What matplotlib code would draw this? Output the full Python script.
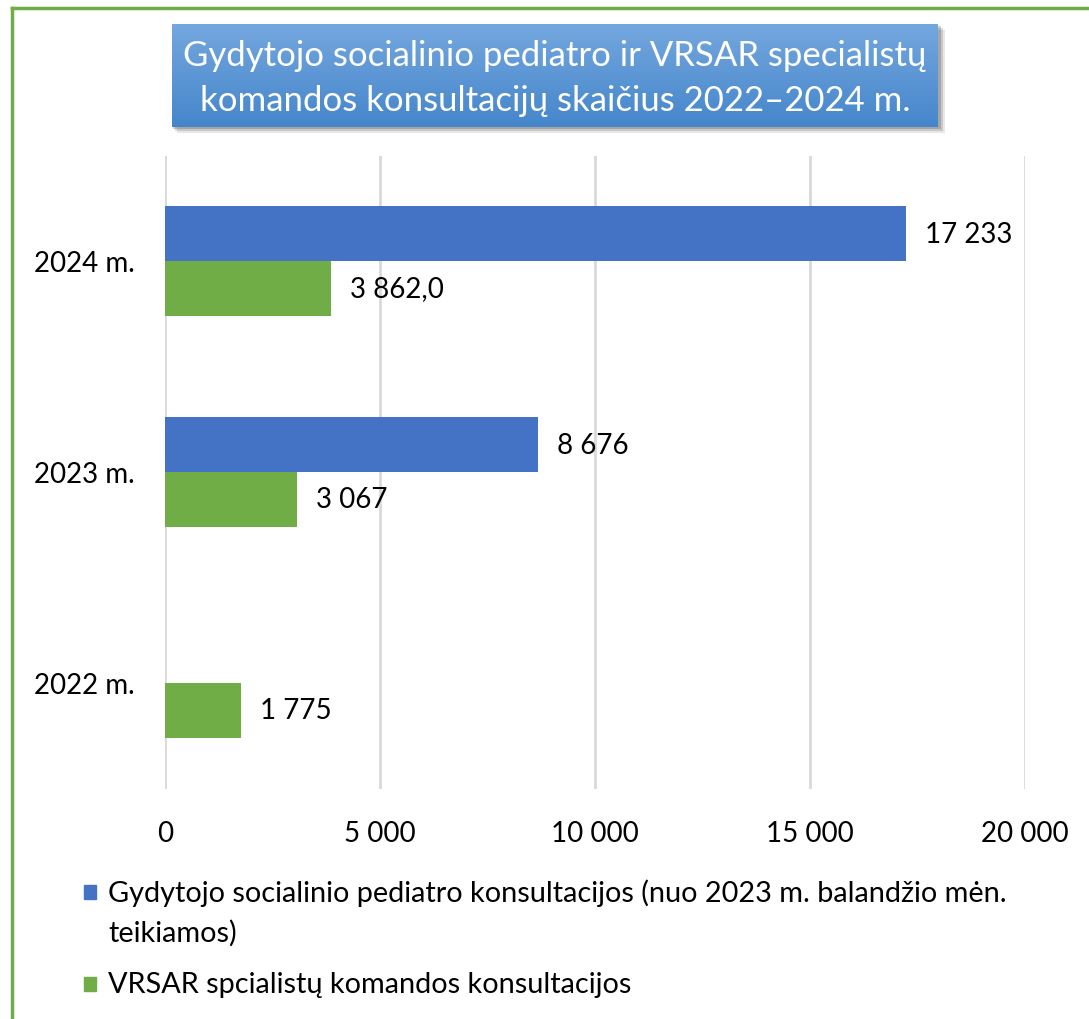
import matplotlib
matplotlib.use("Agg")
import matplotlib.pyplot as plt
import numpy as np
from matplotlib.patches import Rectangle
from matplotlib.lines import Line2D
from matplotlib.ticker import FuncFormatter

plt.rcParams['font.family'] = ['Lato', 'DejaVu Sans']

categories = ["2022 m.", "2023 m.", "2024 m."]
pediatro = [None, 8676, 17233]
vrsar = [1775, 3067, 3862]
vrsar_decimals = [0, 0, 1]
xticks = [0, 5000, 10000, 15000, 20000]
title = "Gydytojo socialinio pediatro ir VRSAR specialistų\nkomandos konsultacijų skaičius 2022–2024 m."
legend_labels = ["Gydytojo socialinio pediatro konsultacijos (nuo 2023 m. balandžio mėn.\nteikiamos)",
                 "VRSAR spcialistų komandos konsultacijos"]

BLUE = "#4472c4"
GREEN = "#70ad47"
W, H = 1089, 1020
FS = 20

def fmt(v, dec=0):
    s = f"{v:,.{dec}f}"
    s = s.replace(",", " ").replace(".", ",")
    return s

fig = plt.figure(figsize=(W/100, H/100), dpi=100)

# green frame (top and left visible)
fig.add_artist(Line2D([12/W, 1.0], [1-9/H, 1-9/H], color=GREEN, lw=2.5, transform=fig.transFigure))
fig.add_artist(Line2D([12/W, 12/W], [0, 1-9/H], color=GREEN, lw=2.5, transform=fig.transFigure))

ax = fig.add_axes([165/W, 1-789.5/H, (1025-165)/W, (789.5-156.5)/H])
y = np.arange(len(categories))
h = 0.26
off = 0.13
for i in range(len(categories)):
    if pediatro[i] is not None:
        ax.barh(y[i]+off, pediatro[i], height=h, color=BLUE, zorder=3)
        ax.text(pediatro[i]+440, y[i]+off, fmt(pediatro[i]), va='center', ha='left', fontsize=FS, color='black')
    ax.barh(y[i]-off, vrsar[i], height=h, color=GREEN, zorder=3)
    ax.text(vrsar[i]+440, y[i]-off, fmt(vrsar[i], vrsar_decimals[i]), va='center', ha='left', fontsize=FS, color='black')

ax.set_xlim(0, 20000)
ax.set_ylim(-0.5, 2.5)
ax.set_xticks(xticks)
ax.xaxis.set_major_formatter(FuncFormatter(lambda v, p: fmt(v)))
ax.set_yticks(y)
ax.set_yticklabels(categories)
ax.tick_params(axis='both', length=0, labelsize=FS)
ax.tick_params(axis='x', pad=23)
ax.tick_params(axis='y', pad=22)
for s in ax.spines.values():
    s.set_visible(False)
ax.grid(axis='x', color='#d9d9d9', lw=2, zorder=0)
ax.set_axisbelow(True)

# title box with gradient and shadow
bx0, bx1, by0, by1 = 172, 938, 25, 128
for k, a in [(6, 0.12), (4, 0.18), (2, 0.25)]:
    fig.add_artist(Rectangle(((bx0+k-1)/W, 1-(by1+k)/H), (bx1-bx0+2)/W, (by1-by0)/H,
                             transform=fig.transFigure, color='#404040', alpha=a, lw=0, zorder=-1))
tax = fig.add_axes([bx0/W, 1-by1/H, (bx1-bx0)/W, (by1-by0)/H])
grad = np.linspace(0, 1, 100).reshape(-1, 1)
c_top = np.array([0x74, 0xa7, 0xde]) / 255
c_bot = np.array([0x45, 0x86, 0xcb]) / 255
img = c_top[None, None, :] * (1-grad[:, :, None]) + c_bot[None, None, :] * grad[:, :, None]
tax.imshow(img, aspect='auto', extent=[0, 1, 0, 1])
tax.set_axis_off()
for k, line in enumerate(title.split("\n")):
    fig.text(555/W, 1-(56+45*k)/H, line, ha='center', va='center', color='white', fontsize=25)

# legend
items = [(BLUE, legend_labels[0], 893), (GREEN, legend_labels[1], 985)]
for col, lab, yy in items:
    fig.add_artist(Rectangle((84/W, 1-(yy+7)/H), 12/W, 14/H, transform=fig.transFigure, color=col))
    for k, line in enumerate(lab.split("\n")):
        fig.text(108/W, 1-(yy+40*k)/H, line, ha='left', va='center', fontsize=20.8)

fig.savefig("out.png", dpi=100)
